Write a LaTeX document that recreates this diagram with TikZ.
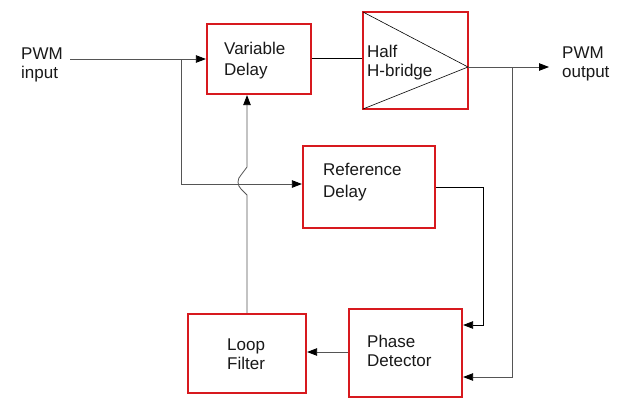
\documentclass[tikz,border=0pt]{standalone}
\usepackage{fontspec}
\setmainfont{Liberation Sans}
\usetikzlibrary{arrows.meta}
\definecolor{boxred}{RGB}{215,25,30}
\definecolor{linegray}{RGB}{85,85,85}
\definecolor{txt}{RGB}{25,25,25}
\begin{document}
\begin{tikzpicture}[x=1pt,y=-1pt,
  box/.style={draw=boxred,line width=2.2pt,rectangle,inner sep=0pt},
  conn/.style={draw=linegray,line width=0.8pt},
  connk/.style={draw=black,line width=0.8pt},
  tip/.style={-{Triangle[length=10pt,width=7.5pt,color=black]}},
  lbl/.style={anchor=base west,inner sep=0pt,text=txt,font=\fontsize{17}{21}\selectfont}]
\useasboundingbox[fill=white] (0,0) rectangle (617,416);

% boxes
\node[box,minimum width=104,minimum height=70] (vd) at (259,59) {};
\node[box,minimum width=105,minimum height=97] (hb) at (415.5,60.5) {};
\node[box,minimum width=132,minimum height=82] (rd) at (369,187) {};
\node[box,minimum width=118,minimum height=79] (lf) at (247,353.5) {};
\node[box,minimum width=113,minimum height=88] (pd) at (405.5,353) {};

% triangle of half bridge
\coordinate (tA) at (363,12);
\coordinate (tB) at (363,109);
\coordinate (tC) at (468,67);
\draw[connk,line width=0.6pt] (tA) -- (tC) -- (tB);

% labels
\node[lbl] (in1) at (21,59) {PWM};
\node[lbl] (in2) at (21,78) {input};
\node[lbl] (vd1) at (224,54) {Variable};
\node[lbl] (vd2) at (224,75) {Delay};
\node[lbl] (hb1) at (367,57) {Half};
\node[lbl] (hb2) at (367,76) {H-bridge};
\node[lbl] (out1) at (562,58) {PWM};
\node[lbl] (out2) at (562,77) {output};
\node[lbl] (rd1) at (323,175) {Reference};
\node[lbl] (rd2) at (323,197) {Delay};
\node[lbl] (lf1) at (227,350) {Loop};
\node[lbl] (lf2) at (227,369) {Filter};
\node[lbl] (pd1) at (367,347) {Phase};
\node[lbl] (pd2) at (367,366) {Detector};

% coordinates
\coordinate (inS) at (70,59);
\coordinate (br1) at (181,59);
\coordinate (br2) at (181,184);
\coordinate (outE) at (549,67);
\coordinate (br3) at (512,67);
\coordinate (br4) at (512,377);
\coordinate (rdo) at (483,187);
\coordinate (rdd) at (483,325);
\coordinate (j1) at (247,195);
\coordinate (j2) at (241,189);
\coordinate (j3) at (241,175);
\coordinate (j4) at (247,167);

% connectors
\draw[conn,tip] (inS) -- (vd.west |- inS);
\draw[conn,tip] (br1) -- (br2) -- (rd.west |- br2);
\draw[connk] (vd.east |- 0,58) -- (hb.west |- 0,58);
\draw[conn,tip] (tC) -- (outE);
\draw[conn,tip] (br3) -- (br4) -- (pd.east |- br4);
\draw[connk,tip] (rd.east |- rdo) -- (rdo) -- (rdd) -- (pd.east |- rdd);
\draw[conn,tip] (pd.west |- 0,352) -- (lf.east |- 0,352);
\draw[conn,tip] (lf.north) -- (j1) -- (j2) .. controls (237,185) and (237,179) .. (j3) -- (j4) -- (j4 |- vd.south);
\end{tikzpicture}
\end{document}
